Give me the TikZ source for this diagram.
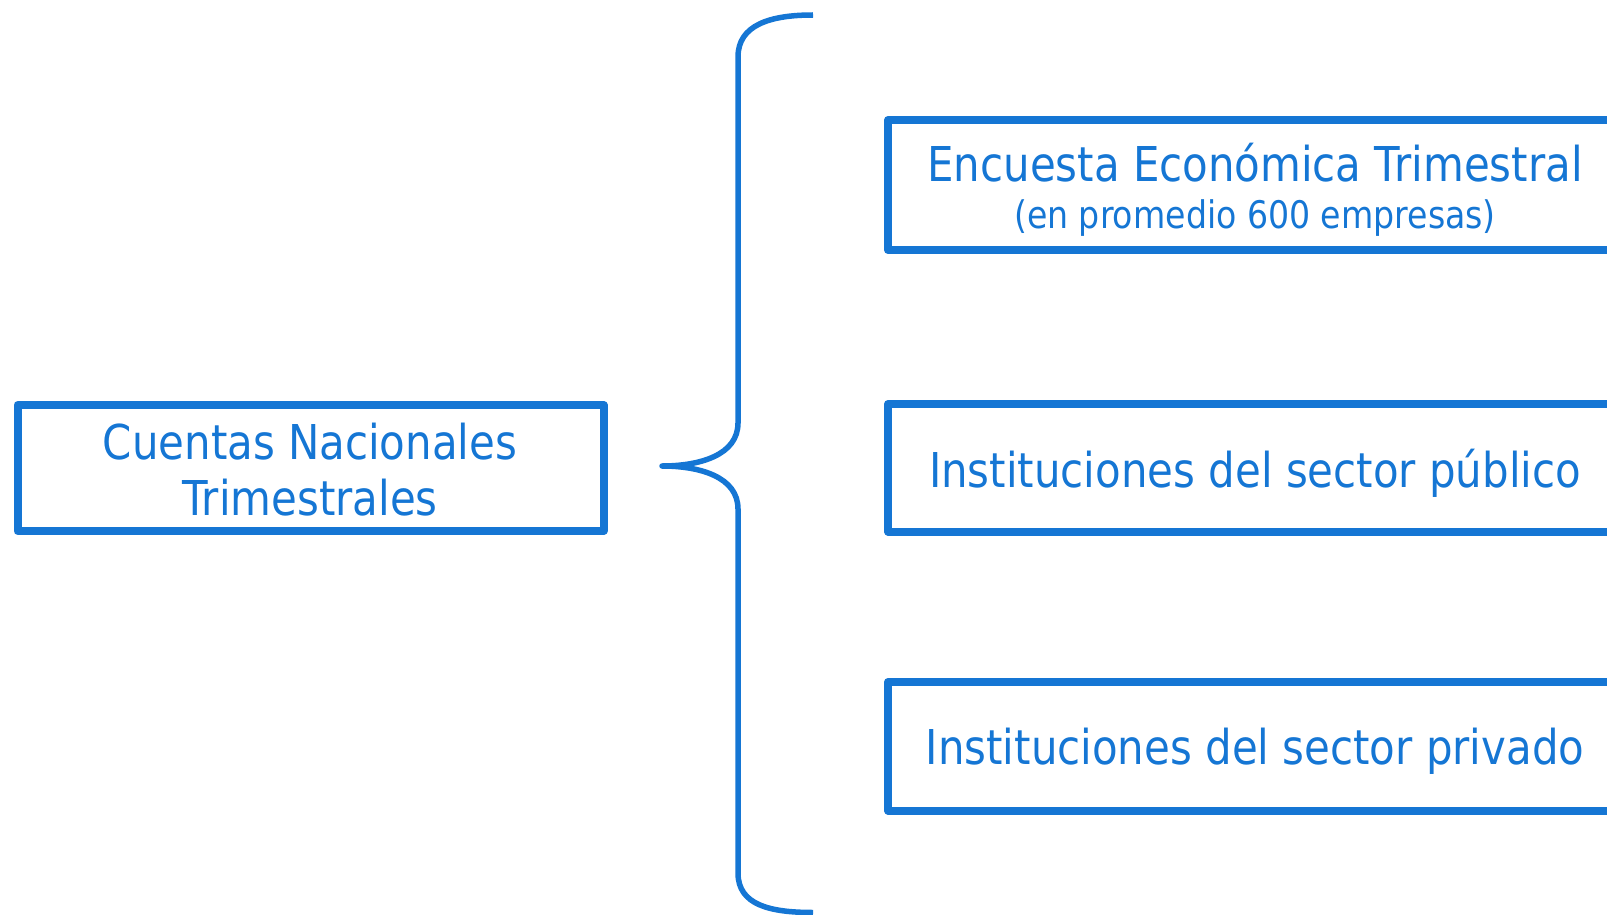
\documentclass[tikz,border=0pt]{standalone}
\usepackage{fontspec}
\setmainfont{DejaVu Sans}[FakeStretch=0.873]
\definecolor{cblue}{RGB}{21,118,212}
\tikzset{
  box/.style={draw=cblue, line width=8pt, line join=round, rectangle, inner sep=0pt},
  bigtxt/.style={text=cblue, font=\fontsize{48}{56}\selectfont, anchor=base, inner sep=0pt},
  smalltxt/.style={text=cblue, font=\fontsize{38}{44}\selectfont, anchor=base, inner sep=0pt},
  bracepath/.style={draw=cblue, line width=5.5pt, line join=round, line cap=butt}
}
\begin{document}
\begin{tikzpicture}[x=1pt,y=-1pt]
\useasboundingbox (0,0) rectangle (1607,915);
\clip (0,0) rectangle (1607,915);
% left box
\node[box, minimum width=586pt, minimum height=126pt] (cnt) at (310.5,468) {};
\node[bigtxt] (cnt1) at (310,459) {Cuentas Nacionales};
\node[bigtxt] (cnt2) at (310,515) {Trimestrales};
% right boxes
\node[box, minimum width=760pt, minimum height=130pt] (eet) at (1268,185) {};
\node[bigtxt] (eet1) at (1255,182) {Encuesta Económica Trimestral};
\node[smalltxt] (eet2) at (1255,228) {(en promedio 600 empresas)};
\node[box, minimum width=760pt, minimum height=127.5pt] (pub) at (1268,467.75) {};
\node[bigtxt] (pub1) at (1255,487) {Instituciones del sector público};
\node[box, minimum width=760pt, minimum height=128.5pt] (priv) at (1268,746.25) {};
\node[bigtxt] (priv1) at (1255,764) {Instituciones del sector privado};
% brace
\coordinate (btop) at (813,15);
\coordinate (btip) at (662,466);
\coordinate (bbot) at (813,912.5);
\draw[bracepath] (btop) .. controls (770,15) and (738,25) .. (738,57) -- (738,423)
  .. controls (738,455) and (700,466) .. (btip)
  .. controls (700,466) and (738,477) .. (738,509) -- (738,873)
  .. controls (738,905) and (770,912.5) .. (bbot);
\end{tikzpicture}
\end{document}
